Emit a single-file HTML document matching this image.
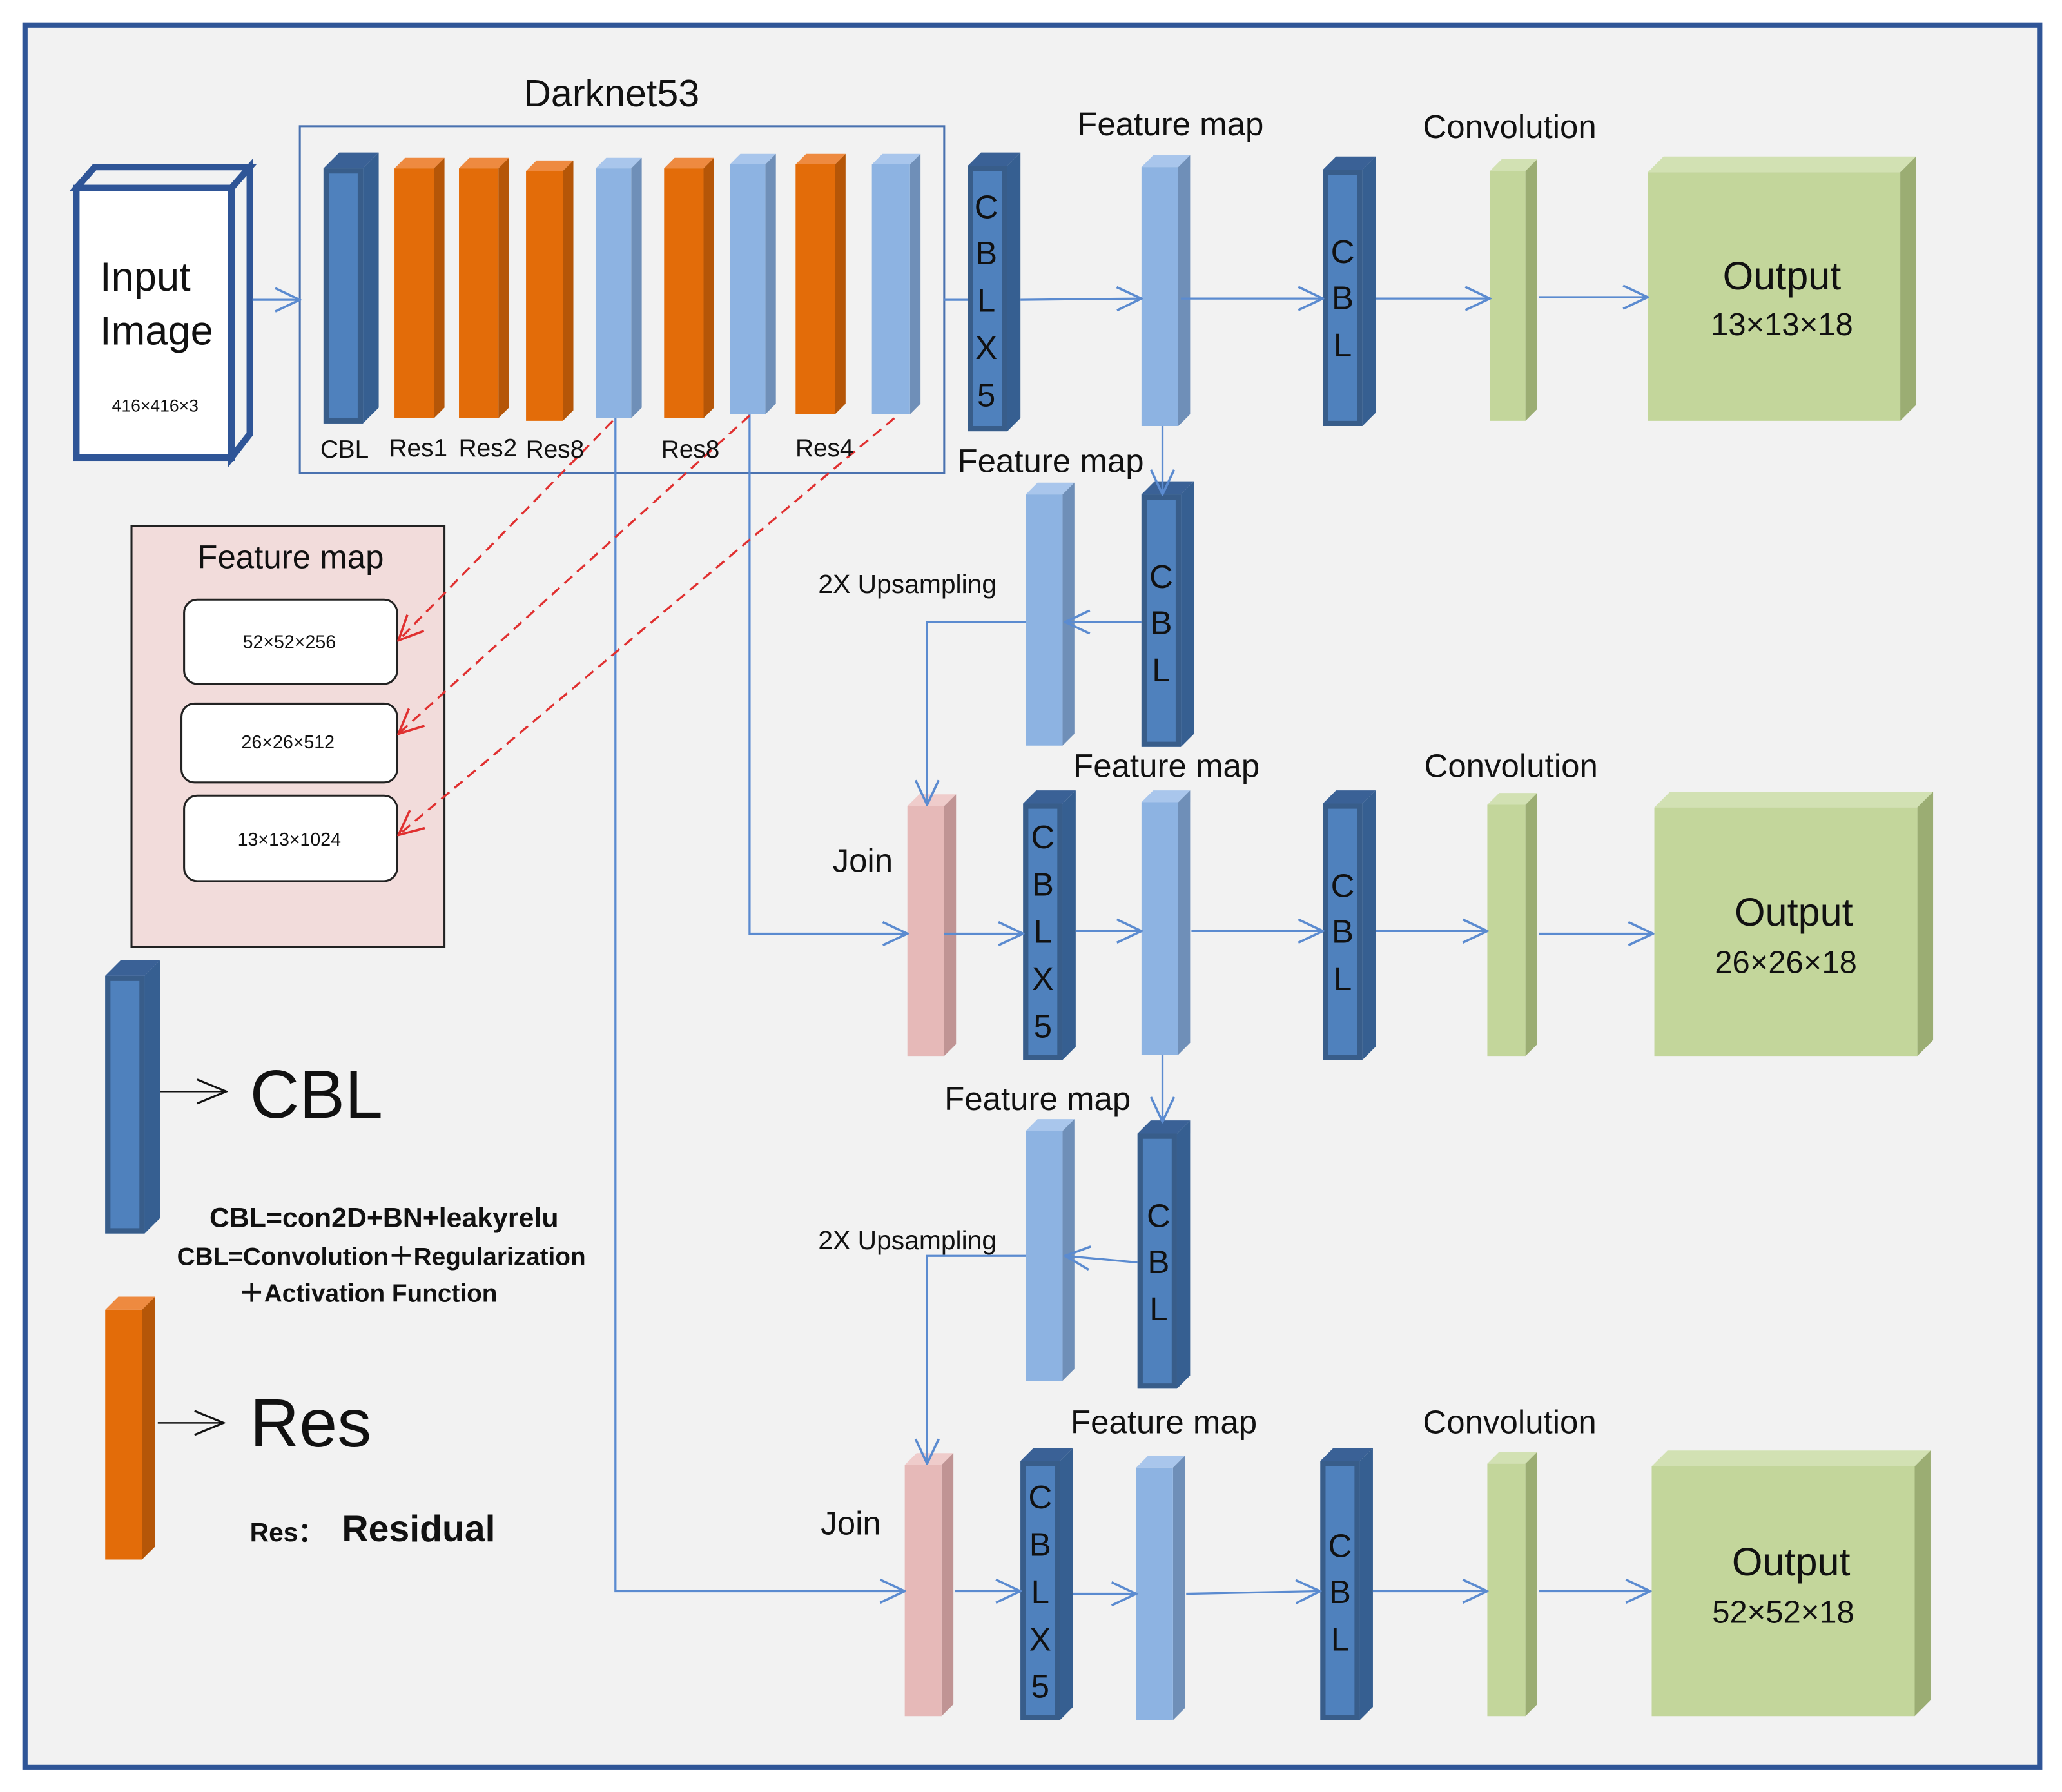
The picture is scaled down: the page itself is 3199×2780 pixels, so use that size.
<!DOCTYPE html>
<html><head><meta charset="utf-8"><style>
html,body{margin:0;padding:0;background:#f2f2f2}
svg{display:block}
text{font-family:"Liberation Sans",sans-serif;fill:#111}
</style></head><body>
<svg id="s" width="3199" height="2780" viewBox="0 0 1568 1362.7" preserveAspectRatio="none" xmlns="http://www.w3.org/2000/svg">
<defs>
<marker id="a" viewBox="0 0 20 20" refX="19" refY="10" markerWidth="22" markerHeight="22" markerUnits="userSpaceOnUse" orient="auto"><path d="M2 2 L19 10 L2 18" fill="none" stroke="#5b8bd0" stroke-width="1.6"/></marker>
<marker id="r" viewBox="0 0 20 20" refX="19" refY="10" markerWidth="22" markerHeight="22" markerUnits="userSpaceOnUse" orient="auto"><path d="M2 2 L19 10 L2 18" fill="none" stroke="#e03030" stroke-width="1.6"/></marker>
<marker id="k" viewBox="0 0 20 20" refX="19" refY="10" markerWidth="26" markerHeight="26" markerUnits="userSpaceOnUse" orient="auto"><path d="M2 3 L19 10 L2 17" fill="none" stroke="#111" stroke-width="1.2"/></marker>
</defs>
<rect x="0" y="0" width="1568" height="1363" fill="#fff"/>
<rect x="19" y="19" width="1532" height="1325" fill="#f2f2f2" stroke="#2f5597" stroke-width="4"/>
<g id="shapes"></g>
<rect x="228" y="96" width="490" height="264" fill="none" stroke="#4a72b0" stroke-width="1.5"/>
<polygon points="58,143 176,143 190,127 72,127" fill="none" stroke="#2f5597" stroke-width="5" stroke-linejoin="miter"/>
<polygon points="176,143 190,127 190,330 176,348" fill="none" stroke="#2f5597" stroke-width="5"/>
<rect x="58" y="143" width="118" height="205" fill="#fff" stroke="#2f5597" stroke-width="5"/>
<rect x="100" y="400" width="238" height="320" fill="#f2dcdb" stroke="#222" stroke-width="1.5"/>
<rect x="140" y="456" width="162" height="64" rx="10" fill="#fff" stroke="#222" stroke-width="1.5"/>
<rect x="138" y="535" width="164" height="60" rx="10" fill="#fff" stroke="#222" stroke-width="1.5"/>
<rect x="140" y="605" width="162" height="65" rx="10" fill="#fff" stroke="#222" stroke-width="1.5"/>
<g fill="none" stroke="#5b8bd0" stroke-width="1.6">
<line x1="192" y1="228" x2="228" y2="228" marker-end="url(#a)"/>
<line x1="718" y1="228" x2="736" y2="228"/>
<line x1="776" y1="228" x2="868" y2="227" marker-end="url(#a)"/>
<line x1="898" y1="227" x2="1006" y2="227" marker-end="url(#a)"/>
<line x1="1046" y1="227" x2="1133" y2="227" marker-end="url(#a)"/>
<line x1="1170" y1="226" x2="1253" y2="226" marker-end="url(#a)"/>
<line x1="884" y1="324" x2="884" y2="376" marker-end="url(#a)"/>
<line x1="868" y1="473" x2="810" y2="473" marker-end="url(#a)"/>
<polyline points="780,473 705,473 705,612" marker-end="url(#a)"/>
<polyline points="468,318 468,1210 688,1210" marker-end="url(#a)"/>
<polyline points="570,315 570,710 690,710" marker-end="url(#a)"/>
<line x1="718" y1="710" x2="778" y2="710" marker-end="url(#a)"/>
<line x1="818" y1="708" x2="868" y2="708" marker-end="url(#a)"/>
<line x1="906" y1="708" x2="1006" y2="708" marker-end="url(#a)"/>
<line x1="1046" y1="708" x2="1131" y2="708" marker-end="url(#a)"/>
<line x1="1170" y1="710" x2="1257" y2="710" marker-end="url(#a)"/>
<line x1="884" y1="802" x2="884" y2="853" marker-end="url(#a)"/>
<line x1="865" y1="960" x2="810" y2="955" marker-end="url(#a)"/>
<polyline points="780,955 705,955 705,1113" marker-end="url(#a)"/>
<line x1="726" y1="1210" x2="776" y2="1210" marker-end="url(#a)"/>
<line x1="816" y1="1212" x2="864" y2="1212" marker-end="url(#a)"/>
<line x1="902" y1="1212" x2="1004" y2="1210" marker-end="url(#a)"/>
<line x1="1044" y1="1210" x2="1131" y2="1210" marker-end="url(#a)"/>
<line x1="1170" y1="1210" x2="1255" y2="1210" marker-end="url(#a)"/>
</g>
<g fill="none" stroke="#e03030" stroke-width="1.6" stroke-dasharray="8,5">
<line x1="466" y1="320" x2="303" y2="487" marker-end="url(#r)"/>
<line x1="570" y1="316" x2="303" y2="558" marker-end="url(#r)"/>
<line x1="680" y1="318" x2="303" y2="635" marker-end="url(#r)"/>
</g>
<line x1="122" y1="830" x2="172" y2="830" stroke="#111" stroke-width="1.2" marker-end="url(#k)"/>
<line x1="120" y1="1082" x2="170" y2="1082" stroke="#111" stroke-width="1.2" marker-end="url(#k)"/>
<text x="465" y="81" font-size="29" text-anchor="middle">Darknet53</text>
<text x="76" y="221" font-size="31">Input</text>
<text x="76" y="262" font-size="31">Image</text>
<text x="118" y="313" font-size="13" text-anchor="middle">416×416×3</text>
<g font-size="19" text-anchor="middle">
<text x="262" y="348">CBL</text><text x="318" y="347">Res1</text><text x="371" y="347">Res2</text><text x="422" y="348">Res8</text><text x="525" y="348">Res8</text><text x="627" y="347">Res4</text>
</g>
<g font-size="25" text-anchor="middle">
<text x="890" y="103">Feature map</text><text x="1148" y="105">Convolution</text>
<text x="799" y="359">Feature map</text>
<text x="887" y="591">Feature map</text><text x="1149" y="591">Convolution</text>
<text x="789" y="844">Feature map</text>
<text x="885" y="1090">Feature map</text><text x="1148" y="1090">Convolution</text>
<text x="221" y="432">Feature map</text>
<text x="656" y="663">Join</text><text x="647" y="1167">Join</text>
</g>
<g font-size="20" text-anchor="middle"><text x="690" y="451">2X Upsampling</text><text x="690" y="950">2X Upsampling</text></g>
<g font-size="14" text-anchor="middle"><text x="220" y="493">52×52×256</text><text x="219" y="569">26×26×512</text><text x="220" y="643">13×13×1024</text></g>
<g font-size="25" text-anchor="middle">
<text x="750" y="166">C</text><text x="750" y="201">B</text><text x="750" y="237">L</text><text x="750" y="273">X</text><text x="750" y="309">5</text>
<text x="1021" y="200">C</text><text x="1021" y="235">B</text><text x="1021" y="271">L</text>
<text x="883" y="447">C</text><text x="883" y="482">B</text><text x="883" y="518">L</text>
<text x="793" y="645">C</text><text x="793" y="681">B</text><text x="793" y="717">L</text><text x="793" y="753">X</text><text x="793" y="789">5</text>
<text x="1021" y="682">C</text><text x="1021" y="717">B</text><text x="1021" y="753">L</text>
<text x="881" y="933">C</text><text x="881" y="968">B</text><text x="881" y="1004">L</text>
<text x="791" y="1147">C</text><text x="791" y="1183">B</text><text x="791" y="1219">L</text><text x="791" y="1255">X</text><text x="791" y="1291">5</text>
<text x="1019" y="1184">C</text><text x="1019" y="1219">B</text><text x="1019" y="1255">L</text>
</g>
<g text-anchor="middle">
<text x="1355" y="220" font-size="30">Output</text><text x="1355" y="255" font-size="24">13×13×18</text>
<text x="1364" y="704" font-size="30">Output</text><text x="1358" y="740" font-size="24">26×26×18</text>
<text x="1362" y="1198" font-size="30">Output</text><text x="1356" y="1234" font-size="24">52×52×18</text>
</g>
<text x="190" y="850" font-size="52">CBL</text>
<text x="190" y="1100" font-size="52">Res</text>
<g font-weight="bold" text-anchor="middle">
<text x="292" y="933" font-size="21">CBL=con2D+BN+leakyrelu</text>
<text x="290" y="962" font-size="19">CBL=Convolution＋Regularization</text>
<text x="280" y="990" font-size="19">＋Activation Function</text>
</g>
<text x="190" y="1172" font-size="20" font-weight="bold">Res：</text>
<text x="260" y="1172" font-size="28" font-weight="bold">Residual</text>
</svg>
<script>
var g=document.getElementById('shapes'),NS='http://www.w3.org/2000/svg';
function P(pts,f){var p=document.createElementNS(NS,'polygon');p.setAttribute('points',pts.map(function(a){return a.join(',')}).join(' '));p.setAttribute('fill',f);g.appendChild(p);}
var C={o:['#e36c09','#ee8a40','#b55608'],l:['#8db3e2','#a9c6ec','#6f8fb8'],d:['#4f81bd','#3a6196','#365f91'],p:['#e6b9b8','#efcccb','#c09494'],g:['#c3d69b','#d2e1b3','#9bad73']};
function bar(x,y,w,h,d,c){var k=C[c];
P([[x,y],[x+d,y-d],[x+w+d,y-d],[x+w,y]],k[1]);
P([[x+w,y],[x+w+d,y-d],[x+w+d,y+h-d],[x+w,y+h]],k[2]);
P([[x,y],[x+w,y],[x+w,y+h],[x,y+h]],k[0]);
if(c=='d'){P([[x,y],[x+w,y],[x+w,y+h],[x,y+h]],'#385d8a');P([[x+4,y+4],[x+w-4,y+4],[x+w-4,y+h-4],[x+4,y+h-4]],'#4f81bd');}
}
bar(246,128,30,194,12,'d');
bar(300,128,30,190,8,'o');bar(349,128,30,190,8,'o');bar(400,130,28,190,8,'o');
bar(453,128,27,190,8,'l');bar(505,128,30,190,8,'o');bar(555,125,27,190,8,'l');
bar(605,125,30,190,8,'o');bar(663,125,29,190,8,'l');
bar(736,126,30,202,10,'d');bar(868,127,28,197,9,'l');bar(1006,129,30,195,10,'d');
bar(1133,130,27,190,9,'g');bar(1253,131,192,189,12,'g');
bar(780,376,28,191,9,'l');bar(868,376,30,192,10,'d');
bar(690,613,28,190,9,'p');bar(778,611,30,195,10,'d');bar(868,610,28,192,9,'l');
bar(1006,611,30,195,10,'d');bar(1131,612,29,191,9,'g');bar(1258,614,200,189,12,'g');
bar(780,860,28,190,9,'l');bar(865,862,30,194,10,'d');
bar(688,1114,28,191,9,'p');bar(776,1111,30,197,10,'d');bar(864,1116,28,192,9,'l');
bar(1004,1111,30,197,10,'d');bar(1131,1113,29,192,9,'g');bar(1256,1115,200,190,12,'g');
bar(80,742,30,196,12,'d');bar(80,996,28,190,10,'o');
</script>
</body></html>
